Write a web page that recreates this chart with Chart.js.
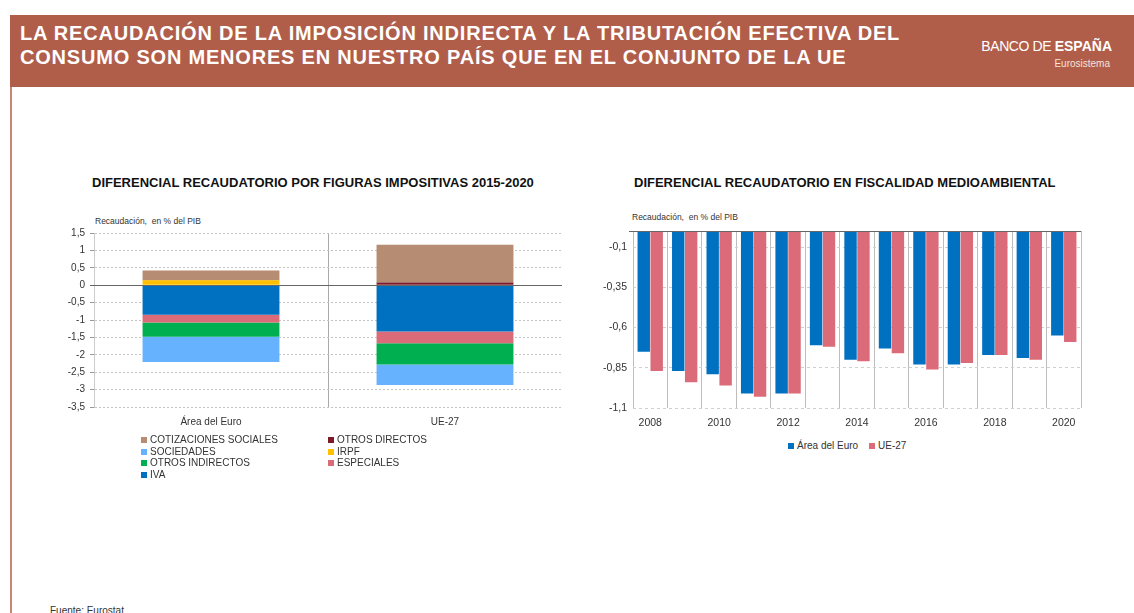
<!DOCTYPE html>
<html>
<head>
<meta charset="utf-8">
<script src="https://cdn.jsdelivr.net/npm/chart.js@4.4.1/dist/chart.umd.min.js"></script>
<style>
	body { margin: 0; width: 1134px; height: 613px; overflow: hidden; background: #fff; position: relative; font-family: 'Liberation Sans', Arial, sans-serif; color: #222; }
	.cabecera { position: absolute; left: 10px; top: 15px; width: 1124px; height: 72px; background: #B05D4A; }
	.titulo { position: absolute; left: 20px; top: 22px; color: #fff; font-weight: bold; font-size: 20px; line-height: 23.5px; letter-spacing: 0.8px; white-space: nowrap; }
	.logo { position: absolute; right: 22px; top: 38px; color: #fff; font-size: 14px; white-space: nowrap; letter-spacing: -0.4px; }
	.logo b { font-weight: bold; letter-spacing: 0; }
	.euro { position: absolute; right: 24px; top: 58px; color: #f4e2dc; font-size: 10px; }
	.borde { position: absolute; left: 10px; top: 87px; width: 2px; height: 530px; background: #C98674; }
	.subtitulo { position: absolute; font-weight: bold; font-size: 13px; white-space: nowrap; color: #111; }
	.unidad { position: absolute; font-size: 8.5px; color: #333; white-space: nowrap; }
	canvas { position: absolute; }
	.leyenda { position: absolute; font-size: 10px; color: #333; }
	.item { position: absolute; white-space: nowrap; line-height: 11px; }
	.item i { display: inline-block; width: 6px; height: 6px; margin-right: 3px; vertical-align: 0px; }
	.fuente { position: absolute; left: 50px; top: 605px; font-size: 10px; color: #333; }
</style>
</head>
<body>
<div class="cabecera"></div>
<div class="titulo">LA RECAUDACIÓN DE LA IMPOSICIÓN INDIRECTA Y LA TRIBUTACIÓN EFECTIVA DEL<br>CONSUMO SON MENORES EN NUESTRO PAÍS QUE EN EL CONJUNTO DE LA UE</div>
<div class="logo">BANCO DE <b>ESPAÑA</b></div>
<div class="euro">Eurosistema</div>
<div class="borde"></div>

<div class="subtitulo" style="left:92px; top:175px;">DIFERENCIAL RECAUDATORIO POR FIGURAS IMPOSITIVAS 2015-2020</div>
<div class="subtitulo" style="left:634px; top:175px;">DIFERENCIAL RECAUDATORIO EN FISCALIDAD MEDIOAMBIENTAL</div>
<div class="unidad" style="left:95px; top:216px;">Recaudación,&nbsp; en % del PIB</div>
<div class="unidad" style="left:632px; top:212px;">Recaudación,&nbsp; en % del PIB</div>

<canvas id="figuras" width="530" height="225" style="left:40px; top:210px;"></canvas>
<canvas id="medioambiental" width="500" height="225" style="left:590px; top:210px;"></canvas>
<div class="leyenda" id="leyenda-figuras"></div>
<div class="leyenda" id="leyenda-medioambiental"></div>

<div class="fuente">Fuente: Eurostat</div>

<script>
// diferencial por figuras impositivas, % del PIB
const zonas = ['Área del Euro', 'UE-27'];
const iva = [-0.85, -1.33];
const especiales = [-0.22, -0.34];
const otrosIndirectos = [-0.41, -0.61];
const irpf = [0.14, 0];
const sociedades = [-0.73, -0.59];
const otrosDirectos = [0.01, 0.08];
const cotizaciones = [0.27, 1.08];

// fiscalidad medioambiental
const anios = ['2008', '2009', '2010', '2011', '2012', '2013', '2014', '2015', '2016', '2017', '2018', '2019', '2020'];
const areaEuro = [-0.75, -0.87, -0.89, -1.01, -1.01, -0.71, -0.80, -0.73, -0.83, -0.83, -0.77, -0.79, -0.65];
const ue27 = [-0.87, -0.94, -0.96, -1.03, -1.01, -0.72, -0.81, -0.76, -0.86, -0.82, -0.77, -0.80, -0.69];
const ticksFiscalidad = [0, -0.1, -0.35, -0.6, -0.85, -1.1];

const coma = v => String(v).replace('.', ',');
const fuenteEjes = { family: "'Liberation Sans', Arial, sans-serif", size: 10 };

const lineaCero = {
	id: 'lineaCero',
	afterDatasetsDraw(chart) {
		const { ctx, chartArea, scales } = chart;
		const y = Math.round(scales.y.getPixelForValue(0)) + 0.5;
		ctx.save();
		ctx.strokeStyle = '#666';
		ctx.lineWidth = 1.2;
		ctx.beginPath();
		ctx.moveTo(chartArea.left - 4, y);
		ctx.lineTo(chartArea.right, y);
		ctx.stroke();
		ctx.restore();
	}
};

const graficoFiguras = new Chart(document.getElementById('figuras'), {
	type: 'bar',
	data: {
		labels: zonas,
		datasets: [
			{ label: 'IVA', data: iva, backgroundColor: '#0070C0' },
			{ label: 'ESPECIALES', data: especiales, backgroundColor: '#DB6B79' },
			{ label: 'OTROS INDIRECTOS', data: otrosIndirectos, backgroundColor: '#00B050' },
			{ label: 'IRPF', data: irpf, backgroundColor: '#FFC000' },
			{ label: 'SOCIEDADES', data: sociedades, backgroundColor: '#66B2FF' },
			{ label: 'OTROS DIRECTOS', data: otrosDirectos, backgroundColor: '#7B1B28' },
			{ label: 'COTIZACIONES SOCIALES', data: cotizaciones, backgroundColor: '#B68C72' }
		]
	},
	options: {
		responsive: false,
		animation: false,
		layout: { padding: { top: 23, right: 8, left: 0, bottom: 0 } },
		plugins: { legend: { display: false }, tooltip: { enabled: false } },
		datasets: { bar: { categoryPercentage: 1, barPercentage: 0.585 } },
		scales: {
			x: {
				stacked: true,
				afterFit: s => { s.height = 28; },
				grid: {
					offset: true,
					drawTicks: false,
					color: c => c.index === 1 ? '#aaa' : 'transparent'
				},
				border: { display: false },
				ticks: { color: '#333', font: fuenteEjes, padding: 9 }
			},
			y: {
				stacked: true,
				min: -3.5,
				max: 1.5,
				afterFit: s => { s.width = 54; },
				ticks: { stepSize: 0.5, color: '#333', font: fuenteEjes, padding: 5, callback: v => coma(v) },
				grid: { color: '#c4c4c4', tickLength: 4, tickColor: '#999' },
				border: { display: true, color: '#ccc', dash: [2, 2] }
			}
		}
	},
	plugins: [lineaCero]
});

const graficoMedio = new Chart(document.getElementById('medioambiental'), {
	type: 'bar',
	data: {
		labels: anios,
		datasets: [
			{ label: 'Área del Euro', data: areaEuro, backgroundColor: '#0070C0' },
			{ label: 'UE-27', data: ue27, backgroundColor: '#DB6B79' }
		]
	},
	options: {
		responsive: false,
		animation: false,
		layout: { padding: { top: 21, right: 9, left: 0, bottom: 0 } },
		plugins: { legend: { display: false }, tooltip: { enabled: false } },
		datasets: { bar: { categoryPercentage: 0.75, barPercentage: 0.96 } },
		scales: {
			x: {
				afterFit: s => { s.height = 27; },
				grid: { offset: true, drawTicks: false, color: '#bdbdbd' },
				border: { display: false },
				ticks: {
					autoSkip: false, maxRotation: 0, color: '#333',
					font: { family: fuenteEjes.family, size: 10.5 }, padding: 9,
					callback: (v, i) => i % 2 === 0 ? anios[i] : ''
				}
			},
			y: {
				min: -1.1,
				max: 0,
				afterFit: s => { s.width = 43; },
				afterBuildTicks: s => { s.ticks = ticksFiscalidad.map(v => ({ value: v })); },
				ticks: { color: '#333', font: { family: fuenteEjes.family, size: 10.5 }, padding: 6, callback: v => v === 0 ? '' : coma(v) },
				grid: { color: '#d0d0d0', drawTicks: false },
				border: { display: false, dash: [3, 3] }
			}
		}
	},
	plugins: [lineaCero]
});

// leyendas en HTML a partir de los datasets
function leyenda(id, chart, posiciones) {
	const caja = document.getElementById(id);
	const items = chart.data.datasets.slice();
	posiciones.forEach(p => {
		const ds = items[p.i];
		const el = document.createElement('div');
		el.className = 'item';
		el.style.left = p.x + 'px';
		el.style.top = p.y + 'px';
		el.innerHTML = '<i style="background:' + ds.backgroundColor + '"></i>' + ds.label;
		caja.appendChild(el);
	});
}

leyenda('leyenda-figuras', graficoFiguras, [
	{ i: 6, x: 141, y: 434 }, { i: 5, x: 328, y: 434 },
	{ i: 4, x: 141, y: 445.5 }, { i: 3, x: 328, y: 445.5 },
	{ i: 2, x: 141, y: 457 }, { i: 1, x: 328, y: 457 },
	{ i: 0, x: 141, y: 468.5 }
]);
leyenda('leyenda-medioambiental', graficoMedio, [
	{ i: 0, x: 788, y: 440 }, { i: 1, x: 869, y: 440 }
]);
</script>
</body>
</html>
